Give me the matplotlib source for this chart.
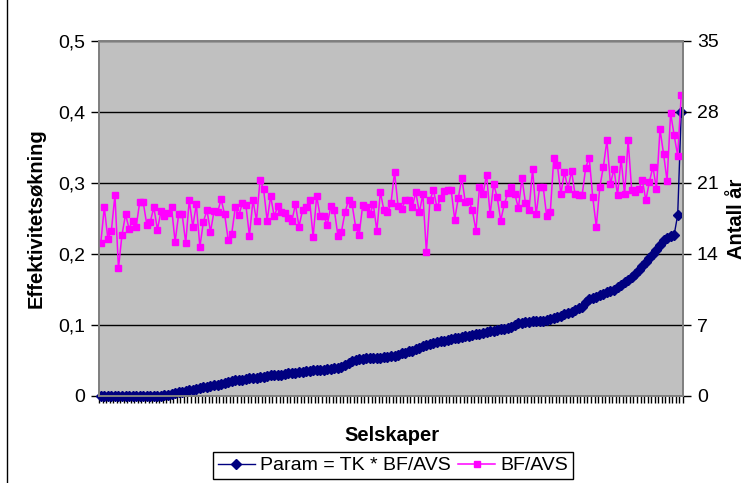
import numpy as np
import matplotlib
matplotlib.use("Agg")
import matplotlib.pyplot as plt
from matplotlib.ticker import FuncFormatter, FixedLocator
from matplotlib.lines import Line2D

plt.rcParams['font.family'] = ['Liberation Sans', 'DejaVu Sans']

# Param = TK * BF/AVS, sorted ascending (left axis)
param = [0.0] * 18 + [
    0.001, 0.002, 0.003, 0.004, 0.005, 0.006, 0.007, 0.008, 0.009, 0.010,
    0.011, 0.012, 0.013, 0.014, 0.015, 0.016, 0.017, 0.019, 0.020, 0.021,
    0.022, 0.022, 0.023, 0.024, 0.025, 0.025, 0.026, 0.027, 0.027, 0.028,
    0.029, 0.029, 0.030, 0.030, 0.031, 0.032, 0.032, 0.033, 0.034, 0.034,
    0.035, 0.035, 0.036, 0.036, 0.037, 0.037, 0.038, 0.038, 0.039, 0.039,
    0.041, 0.044, 0.047, 0.050, 0.051, 0.052, 0.052, 0.053, 0.053, 0.054,
    0.054, 0.054, 0.055, 0.055, 0.056, 0.057, 0.058, 0.060, 0.061, 0.063,
    0.064, 0.066, 0.068, 0.070, 0.072, 0.073, 0.075, 0.076, 0.077, 0.078,
    0.079, 0.080, 0.081, 0.082, 0.083, 0.084, 0.085, 0.086, 0.087, 0.088,
    0.089, 0.090, 0.091, 0.092, 0.093, 0.094, 0.095, 0.096, 0.097, 0.100,
    0.103, 0.103, 0.104, 0.104, 0.105, 0.105, 0.106, 0.106, 0.107, 0.108,
    0.110, 0.111, 0.113, 0.115, 0.117, 0.119, 0.121, 0.124, 0.126, 0.133,
    0.136, 0.138, 0.140, 0.142, 0.144, 0.146, 0.148, 0.150, 0.153, 0.157,
    0.160, 0.164, 0.168, 0.172, 0.177, 0.183, 0.189, 0.195, 0.200, 0.206,
    0.213, 0.220, 0.223, 0.225, 0.227, 0.255, 0.400,
]

# BF/AVS in years (right axis)
bf_avs = [
    15.1, 18.6, 15.5, 16.3, 19.8, 12.6, 15.9, 17.9, 16.5, 17.3,
    16.7, 19.1, 19.1, 16.9, 17.2, 18.6, 16.4, 18.2, 17.7, 18.0,
    18.6, 15.2, 17.9, 17.9, 15.1, 19.3, 16.7, 18.9, 14.7, 17.2,
    18.3, 16.2, 18.2, 18.1, 19.4, 17.9, 15.4, 16.0, 18.6, 17.8,
    19.0, 18.8, 15.8, 19.3, 17.3, 21.3, 20.4, 17.3, 19.7, 17.7,
    18.7, 18.1, 18.0, 17.5,
    17.3, 18.9, 16.7, 18.3, 18.6, 19.3, 15.7, 19.7, 17.7, 17.7,
    16.9, 18.7, 18.3, 15.8, 16.2, 18.1, 19.3, 18.9, 16.7, 15.9,
    18.8, 18.6, 17.9, 18.9, 16.3, 20.1, 18.3, 18.1, 19.0, 22.1,
    18.7, 18.4, 19.3, 19.3, 18.6, 20.1, 18.1, 19.9, 14.2, 19.3,
    20.3, 18.6, 19.5, 20.2, 20.3, 20.3, 17.4, 19.5, 21.5, 19.1,
    19.2, 18.3, 16.3, 20.6,
    19.9, 21.8, 17.9, 20.9, 19.6, 17.3, 18.9, 20.0, 20.6, 19.9,
    18.5, 21.5, 19.0, 18.3, 22.4, 17.9, 20.6, 20.6, 17.7, 18.1,
    23.5, 22.8, 19.9, 22.1, 20.4, 22.2, 19.9, 19.8, 19.8, 22.5,
    23.5, 19.6, 16.7, 20.6, 22.6, 25.2, 20.9, 22.4, 19.8, 23.4,
    19.9, 25.2, 20.3, 20.1, 20.4, 21.3, 19.3, 21.1, 22.6, 20.4,
    26.3, 23.9, 21.2, 27.9, 25.7, 23.7, 29.7,
]

left_ticks = [0, 0.1, 0.2, 0.3, 0.4, 0.5]
right_ticks = [0, 7, 14, 21, 28, 35]

n = len(param)
x = np.arange(n)

fig = plt.figure(figsize=(7.55, 4.83), dpi=100)
ax = fig.add_axes([99 / 755, 1 - 396 / 483, 584 / 755, 355 / 483])
ax2 = ax.twinx()

ax.set_facecolor('#C0C0C0')
ax.yaxis.grid(True, color='black', linewidth=1)
ax.set_axisbelow(True)

l1, = ax.plot(x, param, color='#000080', linewidth=1, marker='D',
              markersize=5.5, markeredgecolor='#000080', clip_on=False,
              label='Param = TK * BF/AVS')
l2, = ax2.plot(x, bf_avs, color='#FF00FF', linewidth=1.1, marker='s',
               markersize=5, markeredgecolor='#FF00FF',
               label='BF/AVS')

ax.set_xlim(-0.5, n - 0.5)
ax.set_ylim(0, 0.5)
ax2.set_ylim(0, 35)
ax.set_yticks(left_ticks)
ax2.set_yticks(right_ticks)
ax.yaxis.set_major_formatter(FuncFormatter(
    lambda v, p: '0' if v == 0 else ('%.1f' % v).replace('.', ',')))
ax2.yaxis.set_major_formatter(FuncFormatter(lambda v, p: '%d' % v))

ax.xaxis.set_major_locator(FixedLocator(np.arange(-0.5, n, 1)))
ax.set_xticklabels([])
ax.tick_params(axis='x', direction='out', length=5, width=1, color='black')
ax.tick_params(axis='y', direction='out', length=6, width=1,
               labelsize=14, pad=4, color='black')
ax2.tick_params(axis='y', direction='out', length=6, width=1,
                labelsize=14, pad=4, color='black')

for a in (ax, ax2):
    for s in a.spines.values():
        s.set_color('#808080')
        s.set_linewidth(1.3)

ax.set_ylabel('Effektivitetsøkning', fontsize=14.5, fontweight='bold')
ax.yaxis.set_label_coords(-0.091, 0.5)
ax2.set_ylabel('Antall år', fontsize=14.5, fontweight='bold')
ax2.yaxis.set_label_coords(1.075, 0.5)
ax.set_xlabel('Selskaper', fontsize=14.5, fontweight='bold')
ax.xaxis.set_label_coords(0.502, -0.085)

leg = fig.legend(handles=[l1, l2], loc='upper left',
                 bbox_to_anchor=(213 / 755, 1 - 452 / 483), ncol=2,
                 fontsize=14, frameon=True, fancybox=False,
                 edgecolor='black', framealpha=1, borderaxespad=0,
                 handlelength=1.9, handletextpad=0.25, columnspacing=0.4,
                 borderpad=0.25)
leg.get_frame().set_linewidth(1)

# chart area border on the left
fig.add_artist(Line2D([7 / 755, 7 / 755], [0, 1], color='black',
                      linewidth=1, transform=fig.transFigure))

fig.savefig('out.png', dpi=100)
